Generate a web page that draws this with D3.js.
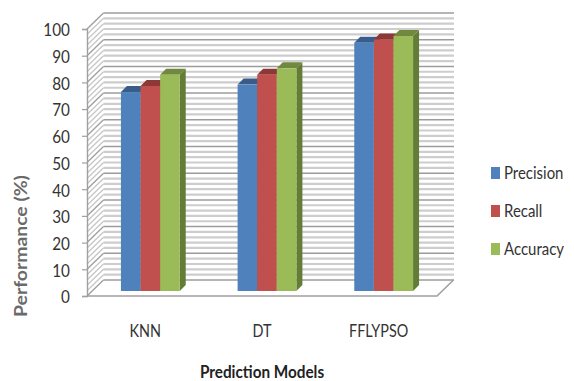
<!DOCTYPE html>
<html>
<head>
<meta charset="utf-8">
<script src="https://cdnjs.cloudflare.com/ajax/libs/d3/7.8.5/d3.min.js"></script>
<style>
  html, body { margin: 0; padding: 0; background: #fff; }
  svg { display: block; }
  text { font-family: Lato, "Open Sans", sans-serif; fill: #333; }
</style>
</head>
<body>
<svg id="chart" width="574" height="381"></svg>
<script>
const categories = ["KNN", "DT", "FFLYPSO"];
const seriesNames = ["Precision", "Recall", "Accuracy"];
const precision = [74.5, 77.3, 93];
const recall = [76.8, 81, 94.2];
const accuracy = [81, 83.4, 95.5];
const seriesValues = [precision, recall, accuracy];
const tickValues = d3.range(0, 101, 10);
const minorValues = d3.range(0, 101, 2);
const faceColors = ["#4f81bd", "#c0504d", "#9bbb59"];
const topColors = ["#385d8a", "#8c3836", "#71893f"];
const sideColors = ["#2f4f75", "#772f2d", "#637d36"];

const svg = d3.select("#chart");

// Front plane of the box, and how far the back wall is shifted from it
const y = d3.scaleLinear().domain([0, 100]).range([296, 29]);
const x = d3.scaleBand().domain(categories).range([87, 437]);
const wallDx = 16.5, wallDy = -16;
const barLift = 5, barShift = 5, barDepth = 6, barWidth = 19.6;
const inner = d3.scaleBand().domain(seriesNames)
  .range([-1.5 * barWidth, 1.5 * barWidth]);

// All labels use a condensed, slightly tall letterform
const placed = (px, py, sx, rot = 0) =>
  `translate(${px},${py}) rotate(${rot}) scale(${sx},1)`;

// Gridlines on the back wall and the slanted side wall
const walls = svg.append("g").attr("fill", "none");
const minor = minorValues.filter(v => v > 0 && v % 10 !== 0);
walls.selectAll("line.back-minor").data(minor).join("line")
  .attr("x1", 87 + wallDx).attr("x2", 437 + wallDx + 0.5)
  .attr("y1", d => y(d) + wallDy).attr("y2", d => y(d) + wallDy)
  .attr("stroke", "#cdcdcd").attr("stroke-width", 2.2);
walls.selectAll("line.side-minor").data(minor).join("line")
  .attr("x1", 87).attr("x2", 87 + wallDx)
  .attr("y1", d => y(d)).attr("y2", d => y(d) + wallDy)
  .attr("stroke", "#c8c8c8").attr("stroke-width", 1.4);
walls.selectAll("line.back-major").data(tickValues).join("line")
  .attr("x1", 87 + wallDx).attr("x2", 437 + wallDx + 0.5)
  .attr("y1", d => y(d) + wallDy).attr("y2", d => y(d) + wallDy)
  .attr("stroke", "#9c9c9c").attr("stroke-width", 1.5);
walls.selectAll("line.side-major").data(tickValues).join("line")
  .attr("x1", 87).attr("x2", 87 + wallDx)
  .attr("y1", d => y(d)).attr("y2", d => y(d) + wallDy)
  .attr("stroke", "#a0a0a0").attr("stroke-width", 1.4);

// Floor outline
walls.append("path")
  .attr("d", d3.line()([[87, y(0)], [437, y(0)], [437 + wallDx, y(0) + wallDy]]))
  .attr("stroke", "#a0a0a0").attr("stroke-width", 1.6);

// Vertical axis with its tick marks and labels
const axis = svg.append("g").attr("transform", "translate(87,0)")
  .call(d3.axisLeft(y).tickValues(tickValues).tickSize(5));
axis.select(".domain").attr("stroke", "#a0a0a0").attr("stroke-width", 1.4);
axis.selectAll(".tick line").attr("stroke", "#a0a0a0").attr("stroke-width", 1.2);
axis.selectAll(".tick text")
  .style("font-family", "Lato, sans-serif").style("font-size", "17.5px").attr("fill", "#333")
  .attr("x", 0).attr("dy", "0.36em")
  .attr("transform", placed(-17, 0.5, 0.875));

// Columns: side, top and front face for every series
const groups = svg.append("g").selectAll("g").data(categories).join("g")
  .attr("transform", d => `translate(${x(d) + x.bandwidth() / 2 + barShift},0)`);

seriesNames.forEach((name, s) => {
  groups.each(function (cat, c) {
    const g = d3.select(this);
    const v = seriesValues[s][c];
    const x0 = inner(name), x1 = x0 + inner.bandwidth();
    const top = y(v) - barLift, base = y(0) - barLift;
    g.append("path").attr("fill", sideColors[s])
      .attr("d", d3.line()([[x1, top], [x1 + barDepth, top - barDepth], [x1 + barDepth, base - barDepth], [x1, base]]) + "Z");
    g.append("path").attr("fill", topColors[s])
      .attr("d", d3.line()([[x0, top], [x0 + barDepth, top - barDepth], [x1 + barDepth, top - barDepth], [x1, top]]) + "Z");
    g.append("rect").attr("fill", faceColors[s])
      .attr("x", x0).attr("y", top)
      .attr("width", inner.bandwidth()).attr("height", base - top);
  });
});

// Category labels
svg.append("g").selectAll("text").data(categories).join("text")
  .attr("transform", d => placed(x(d) + x.bandwidth() / 2, 337, 0.8))
  .attr("text-anchor", "middle")
  .attr("font-size", 18)
  .text(d => d);

// Axis titles
svg.append("text")
  .attr("transform", placed(262, 378, 0.9))
  .attr("text-anchor", "middle")
  .attr("font-size", 17).attr("font-weight", 700)
  .style("fill", "#222")
  .text("Prediction Models");
svg.append("text")
  .attr("transform", placed(27, 246, 1.14, -90))
  .attr("text-anchor", "middle")
  .attr("font-size", 17).attr("font-weight", 700)
  .style("fill", "#6a6a6a")
  .text("Performance (%)");

// Legend
const legend = svg.append("g").selectAll("g").data(seriesNames).join("g")
  .attr("transform", (d, i) => `translate(491,${173 + i * 38})`);
legend.append("rect")
  .attr("x", 0).attr("y", -6).attr("width", 9).attr("height", 12)
  .attr("fill", (d, i) => faceColors[i]);
legend.append("text")
  .attr("transform", placed(13, 6, 0.88))
  .attr("font-size", 17)
  .text(d => d);
</script>
</body>
</html>
